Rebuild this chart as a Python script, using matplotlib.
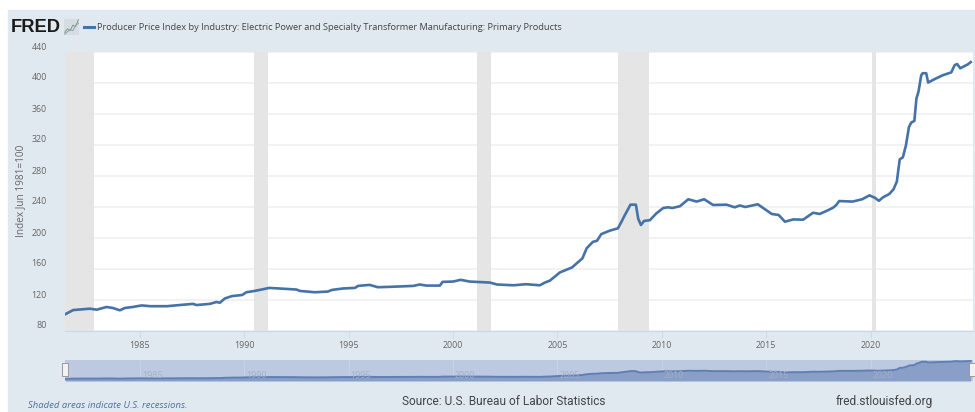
import matplotlib
matplotlib.use('Agg')
import matplotlib.pyplot as plt
from matplotlib.patches import Rectangle

years = [1981.41, 1981.8, 1982.6, 1982.93, 1983.4, 1983.7, 1984.04, 1984.28, 1984.66, 1985.08,
         1985.5, 1986.3, 1986.9, 1987.55, 1987.7, 1988.35, 1988.66, 1988.83, 1989.07, 1989.4,
         1989.9, 1990.1, 1990.5, 1991.2, 1992.02, 1992.5, 1992.66, 1993.38, 1994.0, 1994.2,
         1994.74, 1995.3, 1995.45, 1996.0, 1996.4, 1997.0, 1998.1, 1998.4, 1998.73, 1999.37,
         1999.5, 2000.0, 2000.36, 2000.8, 2001.77, 2002.1, 2002.9, 2003.5, 2004.16, 2004.4,
         2004.64, 2005.12, 2005.7, 2006.2, 2006.4, 2006.7, 2006.9, 2007.1, 2007.5, 2007.9,
         2008.07, 2008.2, 2008.5, 2008.76, 2008.87, 2009.0, 2009.15, 2009.43, 2009.75, 2010.07,
         2010.3, 2010.5, 2010.87, 2011.27, 2011.67, 2012.03, 2012.46, 2013.1, 2013.5, 2013.74,
         2014.0, 2014.6, 2015.27, 2015.6, 2015.9, 2016.3, 2016.77, 2017.25, 2017.56, 2017.9,
         2018.2, 2018.36, 2018.5, 2019.14, 2019.6, 2019.95, 2020.2, 2020.4, 2020.6, 2020.9,
         2021.1, 2021.26, 2021.4, 2021.55, 2021.7, 2021.84, 2021.95, 2022.1, 2022.2, 2022.3,
         2022.43, 2022.5, 2022.67, 2022.76, 2023.07, 2023.46, 2023.87, 2024.03, 2024.15, 2024.3,
         2024.66, 2024.8]
values = [101.5, 107, 108.8, 107.5, 111, 109.7, 106.7, 109.7, 111, 113,
          112, 112, 113.5, 115, 113.5, 115, 117.4, 116.5, 122, 125,
          126.5, 130, 131.7, 135.6, 134.3, 133.5, 131.7, 130, 130.9, 133,
          134.9, 135.6, 138.2, 139.5, 136.5, 137, 138.2, 140, 138.6, 138.6,
          143.4, 143.8, 146, 143.8, 142.5, 140, 139, 140.4, 139, 142.5,
          145, 155.6, 162, 173.8, 186.7, 195, 196.5, 205, 209.4, 212.5,
          221, 228, 243, 243, 225, 216.8, 222, 223, 232, 238.7,
          239.6, 238.7, 241, 250, 247, 250, 242.6, 243, 239.6, 242,
          240, 243.5, 231, 229.7, 221, 224, 223.6, 232.6, 231, 235,
          239, 242.6, 247.7, 247, 250, 255, 252, 248, 252.5, 256.8,
          262.8, 272.7, 301.5, 304, 320, 343, 349, 351, 380, 389,
          410, 412.6, 412.6, 400.6, 405, 410, 413.7, 423, 424.5, 419,
          424, 427]

rec_start = [1981.4, 1990.47, 2001.13, 2007.91, 2020.06]
rec_end = [1982.8, 1991.13, 2001.81, 2009.4, 2020.24]
y_ticks = [80, 120, 160, 200, 240, 280, 320, 360, 400, 440]
x_ticks = [1985, 1990, 1995, 2000, 2005, 2010, 2015, 2020]

title = 'Producer Price Index by Industry: Electric Power and Specialty Transformer Manufacturing: Primary Products'

W, H = 975, 412
panel = '#e1e9f0'
blue = '#4572a7'
text_gray = '#666666'


def axes_px(left, top, right, bottom):
    return fig.add_axes([left / W, 1 - bottom / H, (right - left) / W, (bottom - top) / H])


fig = plt.figure(figsize=(W / 100, H / 100), dpi=100)
fig.patches.append(Rectangle((8 / W, 0), 1, 1 - 10 / H, transform=fig.transFigure, color=panel, zorder=-1))

# main plot
xlim = (1981.41, 2024.91)
ax = axes_px(65, 52, 973, 331)
ax.set_xlim(xlim)
ax.set_ylim(80, 440)
for s, e in zip(rec_start, rec_end):
    ax.axvspan(s, e, color='#e5e5e5', lw=0, zorder=1)
ax.plot(years, values, color=blue, lw=1.9, zorder=3)
ax.set_yticks(y_ticks)
ax.set_yticklabels([])
ax.set_xticks(x_ticks)
ax.set_xticklabels([str(x) for x in x_ticks], fontsize=6.4, color=text_gray, family='Open Sans')
ax.tick_params(axis='x', length=5, width=0.6, color='#ccd6eb', pad=2)
ax.tick_params(axis='y', length=0)
ax.grid(axis='y', color='#f0f0f0', lw=1.2, zorder=0)
ax.set_axisbelow(True)
for side in ['top', 'left', 'right']:
    ax.spines[side].set_visible(False)
ax.spines['bottom'].set_color('#ccd6eb')

for v in y_ticks:
    ax.annotate(str(v), (0, v), xycoords=('axes fraction', 'data'), xytext=(-18, 5),
                textcoords='offset pixels', ha='right', va='center',
                fontsize=6.4, color=text_gray, family='Open Sans')
fig.text(21 / W, 1 - 191 / H, 'Index Jun 1981=100', rotation=90, ha='center', va='center',
         fontsize=7.2, color=text_gray, family='Open Sans')

# navigator
nav = axes_px(65, 360, 973, 381)
nav.set_xlim(xlim)
nav.set_ylim(64, 445)
nav.set_facecolor('#bcc9e0')
nav.fill_between(years, 64, values, color='#8a9fc8', lw=0, zorder=2)
nav.plot(years, values, color='#5f7fb5', lw=1.4, zorder=3)
nav.set_yticks([])
nav.set_xticks(x_ticks)
nav.set_xticklabels([])
nav.tick_params(axis='x', length=0)
nav.grid(axis='x', color='#c9d3e5', lw=0.6, zorder=1)
for side in nav.spines:
    nav.spines[side].set_visible(False)
for x in x_ticks:
    nav.annotate(str(x), (x, 0), xycoords=('data', 'axes fraction'), xytext=(2, 1),
                 textcoords='offset pixels', ha='left', va='bottom', fontsize=6.4,
                 color='#a3afc6', family='Open Sans', zorder=4)
for left in [62, 969]:
    fig.patches.append(Rectangle((left / W, 1 - 376 / H), 6 / W, 13 / H, transform=fig.transFigure,
                                 facecolor='#f2f2f2', edgecolor='#999999', lw=0.7, zorder=5))

# header
fig.text(11 / W, 1 - 28 / H, 'FRED', fontsize=13.2, fontweight='bold', color='#1a1a1a',
         family='Liberation Sans', va='center', ha='left')
icon = axes_px(64, 19, 79, 35)
icon.set_xticks([])
icon.set_yticks([])
icon.set_facecolor('#d5dde3')
for side in icon.spines:
    icon.spines[side].set_visible(False)
icon.plot([0, 1, 2, 3, 4, 5], [1, 2, 1.5, 3, 2.6, 4.5], color='#7f9f6f', lw=0.7)
icon.plot([0, 1, 2, 3, 4, 5], [0.5, 1.2, 1.8, 1.5, 3, 3.5], color='#8ca0b8', lw=0.7)
fig.add_artist(plt.Line2D([84 / W, 94 / W], [1 - 27 / H, 1 - 27 / H], color=blue, lw=2.2))
fig.text(97 / W, 1 - 27.5 / H, title, fontsize=6.7, color='#444444', family='Open Sans',
         va='center', ha='left')

# footer
fig.text(28 / W, 1 - 406 / H, 'Shaded areas indicate U.S. recessions.', fontsize=6.8, style='italic',
         color='#4f6f9f', family='Open Sans', va='center')
fig.text(402 / W, 1 - 401.5 / H, 'Source: U.S. Bureau of Labor Statistics', fontsize=8.55, color='#444444',
         family='Roboto', va='center')
fig.text(836 / W, 1 - 401.5 / H, 'fred.stlouisfed.org', fontsize=8.6, color='#444444',
         family='Roboto', va='center')

fig.savefig('out.png', dpi=100)
